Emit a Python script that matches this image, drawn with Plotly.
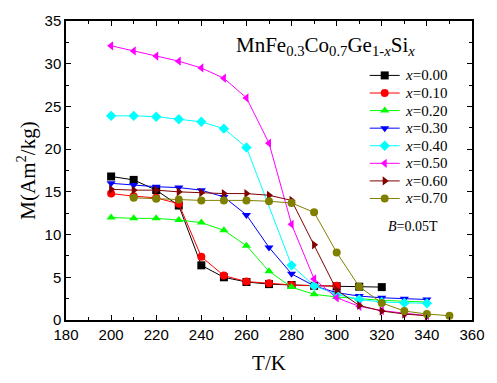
import plotly.graph_objects as go

T = [200, 210, 220, 230, 240, 250, 260, 270, 280, 290, 300, 310, 320, 330, 340, 350]

labels = ["0.00", "0.10", "0.20", "0.30", "0.40", "0.50", "0.60", "0.70"]
m_000 = [16.8, 16.4, 15.2, 13.4, 6.4, 5.0, 4.45, 4.2, 4.1, 4.0, 3.95, 3.9, 3.85]
m_010 = [14.8, 14.5, 14.3, 13.6, 7.4, 5.2, 4.5, 4.3, 4.1, 4.0, 4.0]
m_020 = [12.0, 11.9, 11.9, 11.7, 11.4, 10.5, 8.7, 5.7, 3.85, 3.0, 2.7, 2.5, 2.3, 2.2, 2.1]
m_030 = [16.0, 15.8, 15.6, 15.5, 15.2, 14.4, 12.3, 8.5, 5.4, 4.0, 3.2, 2.8, 2.6, 2.5, 2.4]
m_040 = [23.9, 23.9, 23.8, 23.5, 23.2, 22.4, 20.2, None, 6.4, 4.0, 3.0, 2.4, 2.1, 2.0, 1.95]
m_050 = [32.1, 31.5, 30.9, 30.3, 29.5, 28.3, 26.0, 20.7, 11.2, 4.8, 2.6, 1.6, 1.1, 0.8, 0.5]
m_060 = [15.3, 15.2, 15.2, 15.0, 14.9, 14.8, 14.8, 14.6, 14.0, 8.8, 3.5, 1.7, 1.05, 0.7, 0.5]
m_070 = [None, 14.3, 14.2, 14.1, 14.0, 14.0, 14.0, 13.9, 13.7, 12.6, 7.9, 3.9, 2.0, 1.05, 0.7, 0.5]

series = [m_000, m_010, m_020, m_030, m_040, m_050, m_060, m_070]
colors = ["#000000", "#ff0000", "#00ff00", "#0000ff", "#00ffff", "#ff00ff", "#800000", "#808000"]
symbols = ["square", "circle", "triangle-up", "triangle-down", "diamond", "triangle-left", "triangle-right", "circle"]

SERIF = "Liberation Serif, Times New Roman, serif"
SANS = "Liberation Sans, Arial, sans-serif"

fig = go.Figure()
for lab, vals, c, s in zip(labels, series, colors, symbols):
    xs = [t for t, v in zip(T, vals) if v is not None]
    ys = [v for v in vals if v is not None]
    fig.add_trace(go.Scatter(
        x=xs, y=ys, mode="lines+markers",
        name="x=" + lab, showlegend=False,
        line=dict(color=c, width=1),
        marker=dict(symbol=s, color=c, size=8),
    ))

# manual legend on an overlay axis (plot-area fractions)
leg_x0, leg_x1, leg_xm, leg_tx = 0.748, 0.822, 0.785, 0.830
leg_y0, leg_dy = 0.818, 0.0588
annotations = []
for i, (lab, c, s) in enumerate(zip(labels, colors, symbols)):
    yy = leg_y0 - i * leg_dy
    fig.add_trace(go.Scatter(
        x=[leg_x0, leg_x1], y=[yy, yy], mode="lines", xaxis="x2", yaxis="y2",
        line=dict(color=c, width=1), showlegend=False, hoverinfo="skip"))
    fig.add_trace(go.Scatter(
        x=[leg_xm], y=[yy], mode="markers", xaxis="x2", yaxis="y2",
        marker=dict(symbol=s, color=c, size=8), showlegend=False, hoverinfo="skip"))
    annotations.append(dict(
        text="<i>x</i>=" + lab, xref="x2", yref="y2", x=leg_tx, y=yy,
        xanchor="left", yanchor="middle", showarrow=False,
        font=dict(family=SERIF, size=15, color="black")))

annotations += [
    dict(text="MnFe<sub>0.3</sub>Co<sub>0.7</sub>Ge<sub>1-<i>x</i></sub>Si<sub><i>x</i></sub>",
         xref="x2", yref="y2", x=0.413, y=0.966, xanchor="left", yanchor="top",
         showarrow=False, font=dict(family=SERIF, size=21, color="black")),
    dict(text="<i>B</i>=0.05T", xref="x2", yref="y2", x=0.855, y=0.314,
         xanchor="center", yanchor="middle", showarrow=False,
         font=dict(family=SERIF, size=14, color="black")),
]

axis_common = dict(
    showline=True, linecolor="black", linewidth=1.5, mirror="ticks",
    ticks="inside", ticklen=5, tickcolor="black", showgrid=False, zeroline=False,
    tickfont=dict(family=SANS, size=15, color="black"),
)

fig.update_layout(
    width=497, height=383,
    margin=dict(l=66, r=14, t=20, b=53),
    paper_bgcolor="white", plot_bgcolor="white",
    xaxis=dict(range=[180, 360], dtick=20,
               title=dict(text="T/K", standoff=14, font=dict(family=SERIF, size=21, color="black")),
               minor=dict(dtick=10, ticks="inside", ticklen=3, tickcolor="black"), **axis_common),
    yaxis=dict(range=[0, 35], dtick=5,
               title=dict(text="M(Am<sup>2</sup>/kg)", standoff=3, font=dict(family=SERIF, size=21, color="black")),
               minor=dict(dtick=2.5, ticks="inside", ticklen=3, tickcolor="black"), **axis_common),
    xaxis2=dict(overlaying="x", range=[0, 1], visible=False, fixedrange=True),
    yaxis2=dict(overlaying="y", range=[0, 1], visible=False, fixedrange=True),
    showlegend=False,
    annotations=annotations,
)

fig.write_html("out.html", config={"displayModeBar": False},
               post_script="document.body.style.margin='0';")
